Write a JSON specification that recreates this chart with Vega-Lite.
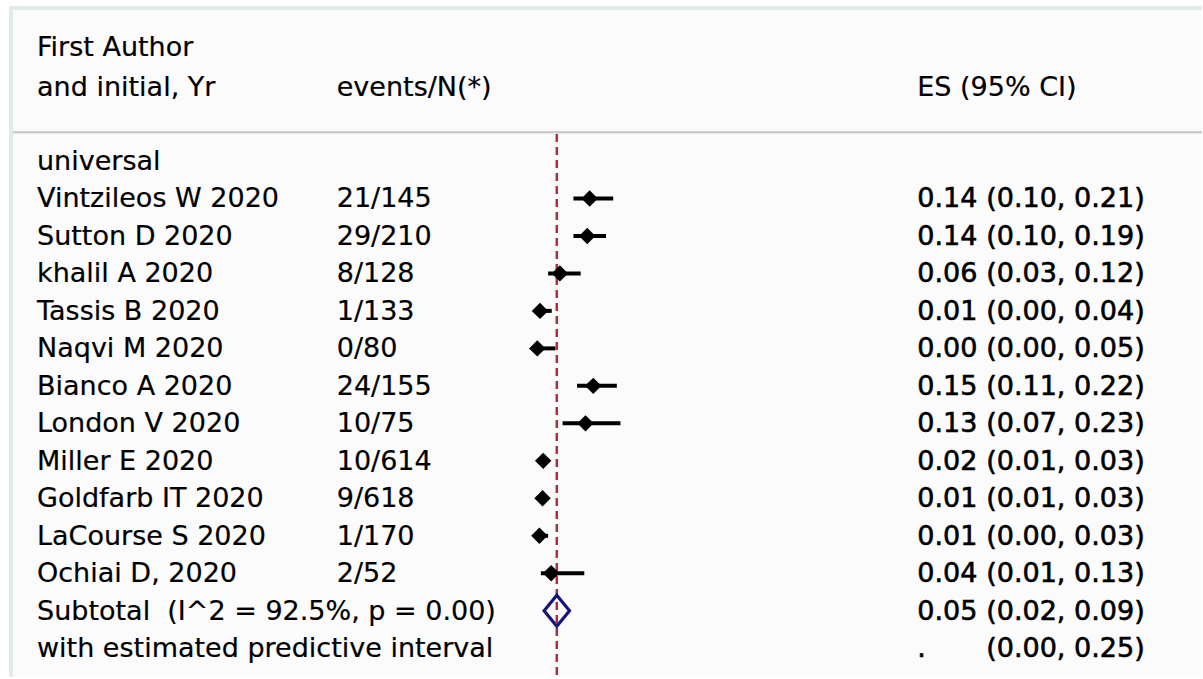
{
  "$schema": "https://vega.github.io/schema/vega-lite/v6.json",
  "width": 1203,
  "height": 679,
  "autosize": {"type": "fit", "contains": "padding"},
  "padding": 0,
  "background": "#ffffff",
  "config": {"view": {"stroke": null}, "text": {"font": "DejaVu Sans", "fontSize": 27}},
  "datasets": {
    "rows": [
      {"row": -3.05, "label": "First Author", "type": "header"},
      {"row": -1.97, "label": "and initial, Yr", "events": "events/N(*)", "es_txt": "ES (95% CI)", "type": "header"},
      {"row": 0, "label": "universal", "type": "group"},
      {"row": 1, "label": "Vintzileos W 2020", "events": "21/145", "es": 0.1448, "lo": 0.10, "hi": 0.21, "es_txt": "0.14", "ci_txt": "(0.10, 0.21)", "type": "study"},
      {"row": 2, "label": "Sutton D 2020", "events": "29/210", "es": 0.1381, "lo": 0.10, "hi": 0.19, "es_txt": "0.14", "ci_txt": "(0.10, 0.19)", "type": "study"},
      {"row": 3, "label": "khalil A 2020", "events": "8/128", "es": 0.0625, "lo": 0.03, "hi": 0.12, "es_txt": "0.06", "ci_txt": "(0.03, 0.12)", "type": "study"},
      {"row": 4, "label": "Tassis B 2020", "events": "1/133", "es": 0.0075, "lo": 0.00, "hi": 0.04, "es_txt": "0.01", "ci_txt": "(0.00, 0.04)", "type": "study"},
      {"row": 5, "label": "Naqvi M 2020", "events": "0/80", "es": 0.0, "lo": 0.00, "hi": 0.05, "es_txt": "0.00", "ci_txt": "(0.00, 0.05)", "type": "study"},
      {"row": 6, "label": "Bianco A 2020", "events": "24/155", "es": 0.1548, "lo": 0.11, "hi": 0.22, "es_txt": "0.15", "ci_txt": "(0.11, 0.22)", "type": "study"},
      {"row": 7, "label": "London V 2020", "events": "10/75", "es": 0.1333, "lo": 0.07, "hi": 0.23, "es_txt": "0.13", "ci_txt": "(0.07, 0.23)", "type": "study"},
      {"row": 8, "label": "Miller E 2020", "events": "10/614", "es": 0.0163, "lo": 0.01, "hi": 0.03, "es_txt": "0.02", "ci_txt": "(0.01, 0.03)", "type": "study"},
      {"row": 9, "label": "Goldfarb IT 2020", "events": "9/618", "es": 0.0146, "lo": 0.01, "hi": 0.03, "es_txt": "0.01", "ci_txt": "(0.01, 0.03)", "type": "study"},
      {"row": 10, "label": "LaCourse S 2020", "events": "1/170", "es": 0.0059, "lo": 0.00, "hi": 0.03, "es_txt": "0.01", "ci_txt": "(0.00, 0.03)", "type": "study"},
      {"row": 11, "label": "Ochiai D, 2020", "events": "2/52", "es": 0.0385, "lo": 0.01, "hi": 0.13, "es_txt": "0.04", "ci_txt": "(0.01, 0.13)", "type": "study"},
      {"row": 12, "label": "Subtotal\u00a0 (I^2 = 92.5%, p = 0.00)", "es": 0.054, "lo": 0.02, "hi": 0.09, "es_txt": "0.05", "ci_txt": "(0.02, 0.09)", "type": "subtotal"},
      {"row": 13, "label": "with estimated predictive interval", "es_txt": ".", "ci_txt": "(0.00, 0.25)", "type": "predictive"}
    ],
    "frame": [{"overall": 0.054}]
  },
  "data": {"name": "rows"},
  "layer": [
    {
      "data": {"name": "frame"},
      "mark": {"type": "rect", "fill": "#e2eaea"},
      "encoding": {
        "x": {"datum": -1.4605, "type": "quantitative", "scale": {"domain": [-1.4854, 1.8378], "nice": false, "zero": false}, "axis": null},
        "x2": {"datum": 1.8378},
        "y": {"datum": -4.133, "type": "quantitative", "scale": {"domain": [-4.293, 13.766], "nice": false, "zero": false, "reverse": true}, "axis": null},
        "y2": {"datum": 13.766}
      }
    },
    {
      "data": {"name": "frame"},
      "mark": {"type": "rect", "fill": "#fbfbfb"},
      "encoding": {
        "x": {"datum": -1.4494, "type": "quantitative", "scale": {"domain": [-1.4854, 1.8378], "nice": false, "zero": false}, "axis": null},
        "x2": {"datum": 1.8378},
        "y": {"datum": -4.027, "type": "quantitative", "scale": {"domain": [-4.293, 13.766], "nice": false, "zero": false, "reverse": true}, "axis": null},
        "y2": {"datum": 13.766}
      }
    },
    {
      "data": {"name": "frame"},
      "mark": {"type": "rule", "stroke": "#c4c4c4", "strokeWidth": 2},
      "encoding": {
        "x": {"datum": -1.4494, "type": "quantitative", "scale": {"domain": [-1.4854, 1.8378], "nice": false, "zero": false}, "axis": null},
        "x2": {"datum": 1.8378},
        "y": {"datum": -0.763, "type": "quantitative", "scale": {"domain": [-4.293, 13.766], "nice": false, "zero": false, "reverse": true}, "axis": null}
      }
    },
    {
      "data": {"name": "frame"},
      "mark": {"type": "rule", "stroke": "#ad2f3c", "strokeWidth": 2.5, "strokeDash": [8, 5]},
      "encoding": {
        "x": {"field": "overall", "type": "quantitative", "scale": {"domain": [-1.4854, 1.8378], "nice": false, "zero": false}, "axis": null},
        "y": {"datum": -0.72, "type": "quantitative", "scale": {"domain": [-4.293, 13.766], "nice": false, "zero": false, "reverse": true}, "axis": null},
        "y2": {"datum": 13.766}
      }
    },
    {
      "transform": [{"filter": "datum.type === 'study'"}],
      "mark": {"type": "rule", "stroke": "#000000", "strokeWidth": 4},
      "encoding": {
        "x": {"field": "lo", "type": "quantitative", "scale": {"domain": [-1.4854, 1.8378], "nice": false, "zero": false}, "axis": null},
        "x2": {"field": "hi"},
        "y": {"field": "row", "type": "quantitative", "scale": {"domain": [-4.293, 13.766], "nice": false, "zero": false, "reverse": true}, "axis": null}
      }
    },
    {
      "transform": [{"filter": "datum.type === 'study'"}],
      "mark": {"type": "point", "shape": "diamond", "filled": true, "fill": "#000000", "size": 270, "opacity": 1},
      "encoding": {
        "x": {"field": "es", "type": "quantitative", "scale": {"domain": [-1.4854, 1.8378], "nice": false, "zero": false}, "axis": null},
        "y": {"field": "row", "type": "quantitative", "scale": {"domain": [-4.293, 13.766], "nice": false, "zero": false, "reverse": true}, "axis": null}
      }
    },
    {
      "transform": [{"filter": "datum.type === 'subtotal'"}],
      "mark": {"type": "point", "shape": "M-0.82,0L0,-1L0.82,0L0,1Z", "filled": false, "stroke": "#14147f", "strokeWidth": 3.2, "size": 960, "opacity": 1},
      "encoding": {
        "x": {"field": "es", "type": "quantitative", "scale": {"domain": [-1.4854, 1.8378], "nice": false, "zero": false}, "axis": null},
        "y": {"field": "row", "type": "quantitative", "scale": {"domain": [-4.293, 13.766], "nice": false, "zero": false, "reverse": true}, "axis": null}
      }
    },
    {
      "mark": {"type": "text", "align": "left", "baseline": "middle", "color": "#000000", "stroke": "#000000", "strokeWidth": 0.2, "dy": 1},
      "encoding": {
        "x": {"datum": -1.3831, "type": "quantitative", "scale": {"domain": [-1.4854, 1.8378], "nice": false, "zero": false}, "axis": null},
        "y": {"field": "row", "type": "quantitative", "scale": {"domain": [-4.293, 13.766], "nice": false, "zero": false, "reverse": true}, "axis": null},
        "text": {"field": "label"}
      }
    },
    {
      "transform": [{"filter": "datum.events != null"}],
      "mark": {"type": "text", "align": "left", "baseline": "middle", "color": "#000000", "stroke": "#000000", "strokeWidth": 0.2, "dy": 1},
      "encoding": {
        "x": {"datum": -0.5544, "type": "quantitative", "scale": {"domain": [-1.4854, 1.8378], "nice": false, "zero": false}, "axis": null},
        "y": {"field": "row", "type": "quantitative", "scale": {"domain": [-4.293, 13.766], "nice": false, "zero": false, "reverse": true}, "axis": null},
        "text": {"field": "events"}
      }
    },
    {
      "transform": [{"filter": "datum.es_txt != null"}],
      "mark": {"type": "text", "align": "left", "baseline": "middle", "color": "#000000", "stroke": "#000000", "dy": 1},
      "encoding": {
        "x": {"datum": 1.0506, "type": "quantitative", "scale": {"domain": [-1.4854, 1.8378], "nice": false, "zero": false}, "axis": null},
        "y": {"field": "row", "type": "quantitative", "scale": {"domain": [-4.293, 13.766], "nice": false, "zero": false, "reverse": true}, "axis": null},
        "text": {"field": "es_txt"},
        "strokeWidth": {"condition": {"test": "datum.type === 'header'", "value": 0.2}, "value": 0.6}
      }
    },
    {
      "transform": [{"filter": "datum.ci_txt != null"}],
      "mark": {"type": "text", "align": "left", "baseline": "middle", "color": "#000000", "stroke": "#000000", "strokeWidth": 0.6, "dy": 1},
      "encoding": {
        "x": {"datum": 1.2412, "type": "quantitative", "scale": {"domain": [-1.4854, 1.8378], "nice": false, "zero": false}, "axis": null},
        "y": {"field": "row", "type": "quantitative", "scale": {"domain": [-4.293, 13.766], "nice": false, "zero": false, "reverse": true}, "axis": null},
        "text": {"field": "ci_txt"}
      }
    }
  ]
}
